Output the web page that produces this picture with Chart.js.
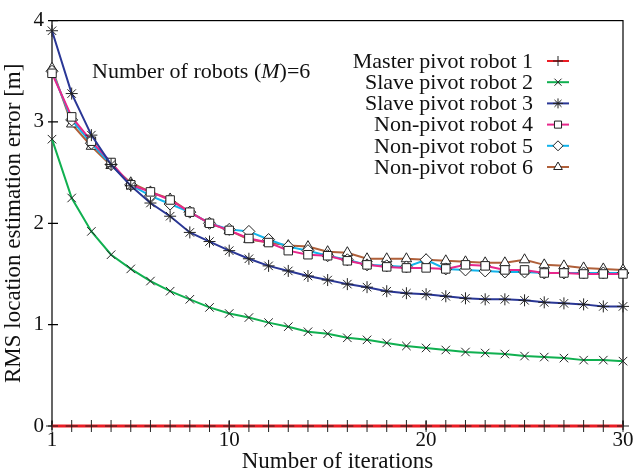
<!DOCTYPE html>
<html>
<head>
<meta charset="utf-8">
<script src="https://cdn.jsdelivr.net/npm/chart.js@4.4.1/dist/chart.umd.min.js"></script>
<style>
  html, body { margin: 0; padding: 0; background: #fff; }
  #wrap { width: 636px; height: 474px; }
</style>
</head>
<body>
<div id="wrap"><canvas id="rmsChart" width="636" height="474"></canvas></div>
<script>
const iterations = Array.from({ length: 30 }, (_, i) => i + 1);
const xTicks = [1, 10, 20, 30];
const yTicks = [0, 1, 2, 3, 4];

const seriesNames = [
    'Master pivot robot 1', 'Slave pivot robot 2', 'Slave pivot robot 3',
    'Non-pivot robot 4', 'Non-pivot robot 5', 'Non-pivot robot 6'
];

const master1 = [0, 0, 0, 0, 0, 0, 0, 0, 0, 0, 0, 0, 0, 0, 0, 0, 0, 0, 0, 0, 0, 0, 0, 0, 0, 0, 0, 0, 0, 0];
const slave2 = [2.83, 2.25, 1.92, 1.69, 1.55, 1.43, 1.33, 1.25, 1.17, 1.11, 1.07, 1.02, 0.98, 0.93, 0.91, 0.87, 0.85, 0.82, 0.79, 0.77, 0.75, 0.73, 0.72, 0.71, 0.69, 0.68, 0.67, 0.65, 0.65, 0.64];
const slave3 = [3.90, 3.28, 2.87, 2.58, 2.37, 2.20, 2.07, 1.91, 1.82, 1.73, 1.65, 1.58, 1.53, 1.48, 1.44, 1.40, 1.37, 1.33, 1.31, 1.30, 1.28, 1.26, 1.25, 1.25, 1.24, 1.22, 1.21, 1.20, 1.18, 1.18];
const nonPivot4 = [3.48, 3.05, 2.81, 2.60, 2.38, 2.31, 2.23, 2.11, 2.00, 1.93, 1.85, 1.81, 1.73, 1.69, 1.68, 1.63, 1.59, 1.57, 1.56, 1.56, 1.55, 1.59, 1.58, 1.54, 1.54, 1.51, 1.51, 1.50, 1.50, 1.50];
const nonPivot5 = [3.50, 3.02, 2.79, 2.58, 2.38, 2.27, 2.19, 2.11, 2.00, 1.94, 1.92, 1.84, 1.77, 1.73, 1.68, 1.64, 1.59, 1.58, 1.57, 1.64, 1.55, 1.54, 1.53, 1.52, 1.52, 1.51, 1.51, 1.51, 1.51, 1.51];
const nonPivot6 = [3.53, 2.98, 2.76, 2.57, 2.40, 2.31, 2.24, 2.11, 2.00, 1.93, 1.84, 1.81, 1.78, 1.77, 1.72, 1.71, 1.65, 1.65, 1.65, 1.64, 1.63, 1.62, 1.61, 1.61, 1.64, 1.59, 1.58, 1.56, 1.55, 1.54];

const allSeries = [master1, slave2, slave3, nonPivot4, nonPivot5, nonPivot6];
const lineColors = ['#ec1c24', '#10b050', '#2a3796', '#e8288c', '#10b4ec', '#b0603a'];
const lineWidths = [3, 2, 2, 2, 2, 2];
const markers = ['cross', 'crossRot', 'star', 'rect', 'rectRot', 'triangle'];
const markerFill = ['#000', '#000', '#000', '#fff', '#fff', '#fff'];

const serif = '"Liberation Serif", "DejaVu Serif", serif';

const toPoints = vals => vals.map((v, i) => ({ x: iterations[i], y: v }));

const datasets = allSeries.map((vals, k) => ({
    label: seriesNames[k],
    data: toPoints(vals),
    borderColor: lineColors[k],
    borderWidth: lineWidths[k],
    pointStyle: markers[k],
    pointRadius: 6,
    pointBorderColor: '#222',
    pointBackgroundColor: markerFill[k],
    pointBorderWidth: 1,
    tension: 0,
    fill: false,
    clip: false
}));

// frame around the plot and inward tick marks, drawn under the lines
const framePlugin = {
    id: 'frame',
    beforeDatasetsDraw(chart) {
        const { ctx, chartArea: a, scales: { x, y } } = chart;
        ctx.save();
        ctx.strokeStyle = '#000';
        ctx.lineWidth = 1.2;
        ctx.strokeRect(a.left, a.top, a.right - a.left, a.bottom - a.top);
        ctx.beginPath();
        xTicks.forEach(t => {
            const px = x.getPixelForValue(t);
            ctx.moveTo(px, a.bottom + 4); ctx.lineTo(px, a.bottom - 5);
        });
        yTicks.forEach(t => {
            const py = y.getPixelForValue(t);
            ctx.moveTo(a.left - 4, py); ctx.lineTo(a.left + 6, py);
        });
        ctx.stroke();
        ctx.restore();
    }
};

// key on the right, text first then a line sample with its marker
const keyPlugin = {
    id: 'key',
    afterDraw(chart) {
        const { ctx } = chart;
        const textRight = 533, lineStart = 547, lineEnd = 569, top = 61, step = 21.2;
        ctx.save();
        ctx.font = '22px ' + serif;
        ctx.textAlign = 'right';
        ctx.textBaseline = 'middle';
        chart.data.datasets.forEach((ds, k) => {
            const yy = top + k * step;
            ctx.fillStyle = '#111';
            ctx.fillText(ds.label, textRight, yy + 1);
            ctx.strokeStyle = ds.borderColor;
            ctx.lineWidth = 2;
            ctx.beginPath();
            ctx.moveTo(lineStart, yy); ctx.lineTo(lineEnd, yy);
            ctx.stroke();
            ctx.strokeStyle = '#222';
            ctx.fillStyle = ds.pointBackgroundColor;
            ctx.lineWidth = 1;
            Chart.helpers.drawPoint(ctx, { pointStyle: ds.pointStyle, radius: 5, rotation: 0, borderWidth: 1 }, (lineStart + lineEnd) / 2, yy);
        });
        // annotation
        ctx.textAlign = 'left';
        ctx.fillStyle = '#111';
        ctx.font = '22px ' + serif;
        let xx = 92;
        const yy = 72;
        const part1 = 'Number of robots (';
        ctx.fillText(part1, xx, yy);
        xx += ctx.measureText(part1).width;
        ctx.font = 'italic 22px ' + serif;
        ctx.fillText('M', xx, yy);
        xx += ctx.measureText('M').width;
        ctx.font = '22px ' + serif;
        ctx.fillText(')=6', xx, yy);
        ctx.restore();
    }
};

new Chart(document.getElementById('rmsChart').getContext('2d'), {
    type: 'line',
    data: { datasets },
    options: {
        responsive: false,
        animation: false,
        events: [],
        layout: { padding: { top: 16, right: 13, left: 0, bottom: 0 } },
        plugins: {
            legend: { display: false },
            tooltip: { enabled: false }
        },
        scales: {
            x: {
                type: 'linear',
                min: 1,
                max: 30,
                afterBuildTicks: s => { s.ticks = xTicks.map(v => ({ value: v })); },
                afterFit: s => { s.height = 48; },
                grid: { display: false, drawTicks: false },
                border: { display: false },
                ticks: { color: '#111', font: { family: serif, size: 21 }, padding: 2, maxRotation: 0 },
                title: { display: true, text: 'Number of iterations', color: '#111', font: { family: serif, size: 23 }, padding: { top: 0, bottom: -2 } }
            },
            y: {
                min: 0,
                max: 4,
                afterBuildTicks: s => { s.ticks = yTicks.map(v => ({ value: v })); },
                afterFit: s => { s.width = 52; },
                grid: { display: false, drawTicks: false },
                border: { display: false },
                ticks: { color: '#111', font: { family: serif, size: 21 }, padding: 8 },
                title: { display: true, text: 'RMS location estimation error [m]', color: '#111', font: { family: serif, size: 23 }, padding: { top: 0, bottom: 0 } }
            }
        }
    },
    plugins: [framePlugin, keyPlugin]
});
</script>
</body>
</html>
